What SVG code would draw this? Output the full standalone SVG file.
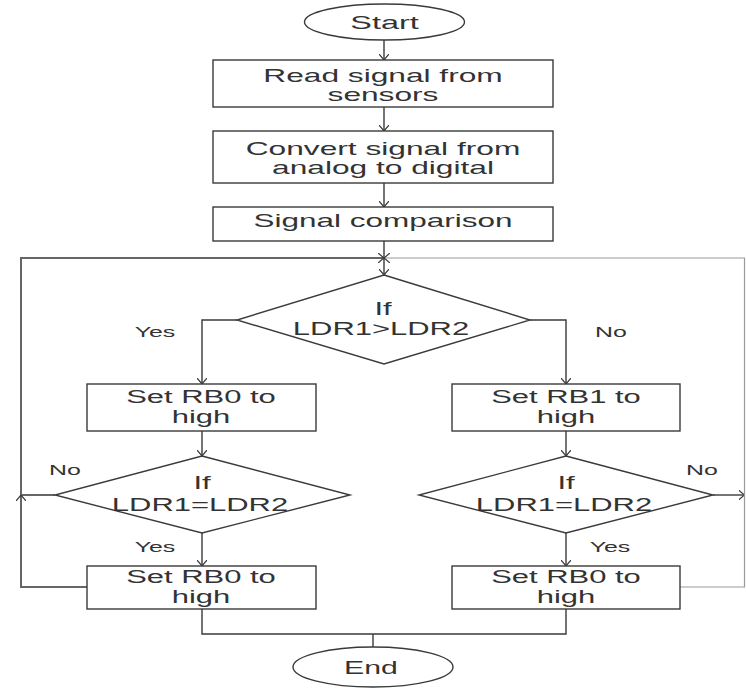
<svg xmlns="http://www.w3.org/2000/svg" width="746" height="688" viewBox="0 0 746 688">
<style>
.shape{fill:#fff;stroke:#3a3a3a;stroke-width:1.4}
.c{fill:none;stroke:#3a3a3a;stroke-width:1.4}
.loop{fill:none;stroke:#666;stroke-width:2}
.edge{fill:none;stroke:#999;stroke-width:1.2}
.t{font-family:"Liberation Sans",Arial,sans-serif;font-size:18px;fill:#333;text-anchor:middle}
.l{font-family:"Liberation Sans",Arial,sans-serif;font-size:14px;fill:#333;text-anchor:middle}
</style>
<defs>
<marker id="arr" viewBox="0 0 6 10" refX="6" refY="5" markerWidth="6" markerHeight="10" markerUnits="userSpaceOnUse" orient="auto">
<path d="M0,0 L6,5 L0,10" fill="none" stroke="#3a3a3a" stroke-width="1.2"/>
</marker>
</defs>
<rect width="746" height="688" fill="#fff"/>
<g id="connectors">
<line class="c" x1="384" y1="40" x2="384" y2="60" marker-end="url(#arr)"/>
<line class="c" x1="384" y1="107" x2="384" y2="131" marker-end="url(#arr)"/>
<line class="c" x1="384" y1="183" x2="384" y2="207" marker-end="url(#arr)"/>
<line class="c" x1="384" y1="241" x2="384" y2="275" marker-end="url(#arr)"/>
<polyline class="c" points="237,320 202,320 202,384" marker-end="url(#arr)"/>
<polyline class="c" points="530,320 566,320 566,384" marker-end="url(#arr)"/>
<line class="c" x1="202" y1="431" x2="202" y2="456" marker-end="url(#arr)"/>
<line class="c" x1="566" y1="431" x2="566" y2="456" marker-end="url(#arr)"/>
<line class="c" x1="202" y1="533" x2="202" y2="566" marker-end="url(#arr)"/>
<line class="c" x1="566" y1="533" x2="566" y2="566" marker-end="url(#arr)"/>
<polyline class="loop" points="55,495 21,495 21,258 384,258" marker-end="url(#arr)"/>
<polyline class="loop" points="87,587 21,587 21,495" marker-end="url(#arr)"/>
<polyline class="c" points="713,495 744.5,495" marker-end="url(#arr)"/>
<polyline class="edge" points="680,587 744.5,587 744.5,258 384,258" marker-end="url(#arr)"/>
<polyline class="c" points="202,609 202,634 566,634 566,609"/>
<line class="c" x1="373" y1="634" x2="373" y2="647"/>
</g>
<g id="start">
<ellipse class="shape" cx="384.5" cy="22" rx="80" ry="18"/>
<text class="t" transform="translate(384.5,28.5) scale(1.8,1)">Start</text>
</g>
<g id="read">
<rect class="shape" x="213" y="60" width="340" height="47"/>
<text class="t" transform="translate(383,82) scale(1.76,1)">Read signal from</text>
<text class="t" transform="translate(383,101) scale(1.76,1)">sensors</text>
</g>
<g id="convert">
<rect class="shape" x="213" y="131" width="340" height="52"/>
<text class="t" transform="translate(383,155) scale(1.76,1)">Convert signal from</text>
<text class="t" transform="translate(383,174) scale(1.76,1)">analog to digital</text>
</g>
<g id="compare">
<rect class="shape" x="213" y="207" width="340" height="34"/>
<text class="t" transform="translate(383,227) scale(1.75,1)">Signal comparison</text>
</g>
<g id="if1">
<polygon class="shape" points="384,275 530,320 384,364 237,320"/>
<text class="t" transform="translate(383,315) scale(1.72,1)">If</text>
<text class="t" transform="translate(381,335) scale(1.72,1)">LDR1&gt;LDR2</text>
</g>
<g id="setrb0a">
<rect class="shape" x="87" y="384" width="229" height="47"/>
<text class="t" transform="translate(201,403) scale(1.72,1)">Set RB0 to</text>
<text class="t" transform="translate(201,423) scale(1.72,1)">high</text>
</g>
<g id="setrb1">
<rect class="shape" x="452" y="384" width="228" height="47"/>
<text class="t" transform="translate(566,403) scale(1.72,1)">Set RB1 to</text>
<text class="t" transform="translate(566,423) scale(1.72,1)">high</text>
</g>
<g id="if2left">
<polygon class="shape" points="202,456 350,495 202,533 55,495"/>
<text class="t" transform="translate(202,489) scale(1.72,1)">If</text>
<text class="t" transform="translate(200,511) scale(1.72,1)">LDR1=LDR2</text>
</g>
<g id="if2right">
<polygon class="shape" points="566,456 713,495 566,533 419,495"/>
<text class="t" transform="translate(566,489) scale(1.72,1)">If</text>
<text class="t" transform="translate(564,511) scale(1.72,1)">LDR1=LDR2</text>
</g>
<g id="setrb0b">
<rect class="shape" x="87" y="566" width="229" height="43"/>
<text class="t" transform="translate(201,583) scale(1.72,1)">Set RB0 to</text>
<text class="t" transform="translate(201,603) scale(1.72,1)">high</text>
</g>
<g id="setrb0c">
<rect class="shape" x="452" y="566" width="228" height="43"/>
<text class="t" transform="translate(566,583) scale(1.72,1)">Set RB0 to</text>
<text class="t" transform="translate(566,603) scale(1.72,1)">high</text>
</g>
<g id="end">
<ellipse class="shape" cx="373" cy="667" rx="80" ry="20"/>
<text class="t" transform="translate(371,673.5) scale(1.68,1)">End</text>
</g>
<g id="labels">
<text class="l" transform="translate(155,337) scale(1.78,1)">Yes</text>
<text class="l" transform="translate(611,337) scale(1.78,1)">No</text>
<text class="l" transform="translate(65,475) scale(1.78,1)">No</text>
<text class="l" transform="translate(155,552) scale(1.78,1)">Yes</text>
<text class="l" transform="translate(702,475) scale(1.78,1)">No</text>
<text class="l" transform="translate(610,552) scale(1.78,1)">Yes</text>
</g>
</svg>
